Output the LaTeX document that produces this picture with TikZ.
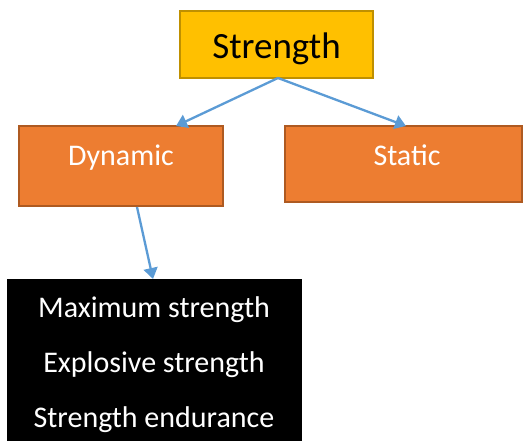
\documentclass[tikz,border=0pt]{standalone}
\usepackage{fontspec}
\setmainfont{Carlito}
\usetikzlibrary{arrows.meta}
\definecolor{gold}{HTML}{FFC000}
\definecolor{golddark}{HTML}{BF9000}
\definecolor{orng}{HTML}{ED7D31}
\definecolor{orngdark}{HTML}{AE5A21}
\definecolor{arrowblue}{HTML}{5B9BD5}
\tikzset{
  x=1pt,y=1pt,
  box/.style={draw, line width=1.5pt, inner sep=0pt, outer sep=0pt},
  goldbox/.style={box, fill=gold, draw=golddark},
  orngbox/.style={box, fill=orng, draw=orngdark},
  blackbox/.style={fill=black, inner sep=0pt, outer sep=0pt},
  conn/.style={draw=arrowblue, line width=2.3pt, -{Triangle[width=14pt,length=11pt]}},
  lbl/.style={inner sep=0pt, anchor=base, font=\fontsize{30}{34}\selectfont},
}
\begin{document}
\begin{tikzpicture}
\useasboundingbox (0,0) rectangle (524,-441);
% boxes
\node[goldbox, minimum width=193pt, minimum height=67pt] (str) at (276.5,-44.5) {};
\node[orngbox, minimum width=204pt, minimum height=80pt] (dyn) at (121,-166) {};
\node[orngbox, minimum width=237pt, minimum height=76pt] (sta) at (403.5,-164) {};
\node[blackbox, minimum width=295pt, minimum height=170pt] (blk) at (154.5,-364) {};
% texts
\node[inner sep=0pt, anchor=base, font=\fontsize{37}{42}\selectfont] (strt) at (276.5,-59) {Strength};
\node[lbl, text=white] (dynt) at (121,-165) {Dynamic};
\node[lbl, text=white] (stat) at (407,-165) {Static};
\node[lbl, text=white] (m1) at (154,-317) {Maximum strength};
\node[lbl, text=white] (m2) at (154,-372) {Explosive strength};
\node[lbl, text=white] (m3) at (154,-427) {Strength endurance};
% connector anchors
\coordinate (sb) at (278,-78);
\coordinate (dtop) at (176,-126);
\coordinate (stop) at (406,-126);
\coordinate (dbot) at (137,-207);
\coordinate (btop) at (153,-279);
\draw[conn] (sb) -- (dtop);
\draw[conn] (sb) -- (stop);
\draw[conn] (dbot) -- (btop);
\end{tikzpicture}
\end{document}
